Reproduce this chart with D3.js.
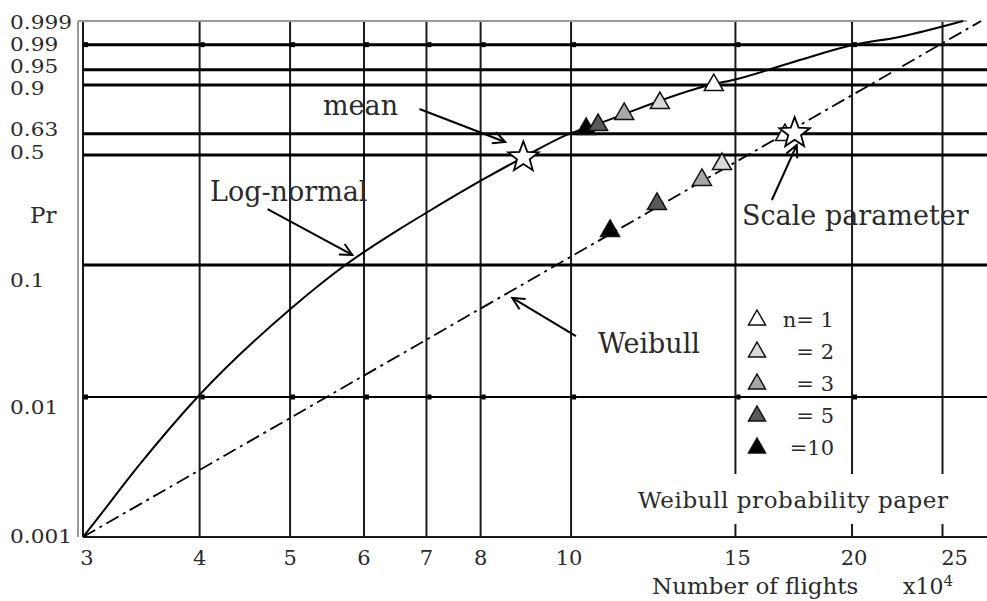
<!DOCTYPE html>
<html>
<head>
<meta charset="utf-8">
<script src="https://cdn.jsdelivr.net/npm/d3@7"></script>
<style>
  body { margin: 0; background: #fff; }
  text { font-family: "DejaVu Serif", serif; fill: #2a2a2a; }
</style>
</head>
<body>
<div class="chart"></div>
<script>
const w = 987;
const h = 601;

// grid of the probability paper
const xTicks = [3, 4, 5, 6, 7, 8, 10, 15, 20, 25];
const pLines = [0.99, 0.95, 0.9, 0.632, 0.5, 0.1, 0.01];
const pTicks = [0.999, 0.99, 0.95, 0.9, 0.632, 0.5, 0.1, 0.01, 0.001];
const pLabels = ["0.999", "0.99", "0.95", "0.9", "0.63", "0.5", "0.1", "0.01", "0.001"];

// log-normal curve
const lnX = [3.0, 3.10, 3.44, 3.98, 4.99, 5.73, 6.53, 7.02, 8.03, 8.89, 10.0, 10.38, 14.22, 14.91, 17.58, 20.03, 22.48, 26.3];
const lnP = [0.001, 0.00132, 0.00322, 0.01, 0.0462, 0.1, 0.175, 0.230, 0.364, 0.487, 0.636, 0.668, 0.904, 0.919, 0.971, 0.9897, 0.9948, 0.999];

// weibull line (straight on this paper)
const wbX = [3.0, 27.5];
const wbP = [0.001, 0.999];

// sample points, n = 1, 2, 3, 5, 10
const nLabels = ["n= 1", "= 2", "= 3", "= 5", "=10"];
const nFill = ["#ffffff", "#d9d9d9", "#a6a6a6", "#595959", "#000000"];
const lnPtX = [14.22, 12.45, 11.40, 10.69, 10.38];
const lnPtP = [0.904, 0.821, 0.760, 0.693, 0.668];
const wbPtX = [16.95, 14.51, 13.81, 12.36, 11.01];
const wbPtP = [0.630, 0.454, 0.369, 0.263, 0.175];

const meanPt = [8.89, 0.487];
const scalePt = [17.36, 0.636];

// annotation arrows [x0, p0, x1, p1]
const arrows = [
    [4.73, 0.2405, 5.83, 0.1176],   // Log-normal
    [6.88, 0.783, 8.50, 0.580],     // mean
    [16.41, 0.2746, 17.45, 0.5615], // Scale parameter
    [10.12, 0.0293, 8.65, 0.0569]   // Weibull
];

const wz = p => Math.log(-Math.log(1 - p));

const x = d3.scaleLog().domain([3, 27.9]).range([83, 987]);
const y = d3.scaleLinear()
    .domain([wz(0.001), wz(0.01), wz(0.1), wz(0.999)])
    .range([537, 397, 265, 21]);
const yp = p => y(wz(p));

const svg = d3.select(".chart")
    .append("svg")
    .attr("width", w)
    .attr("height", h);

svg.append("rect").attr("width", w).attr("height", h).attr("fill", "#fff");

const defs = svg.append("defs");
defs.append("marker")
    .attr("id", "arr")
    .attr("viewBox", "-1 -7 15 14")
    .attr("refX", 12).attr("refY", 0)
    .attr("markerWidth", 15).attr("markerHeight", 14)
    .attr("markerUnits", "userSpaceOnUse")
    .attr("orient", "auto")
    .append("path")
    .attr("d", "M0,-6L12,0L0,6")
    .attr("fill", "none")
    .attr("stroke", "#000")
    .attr("stroke-width", 2);

// vertical grid
svg.selectAll(".vline")
    .data(xTicks)
    .enter()
    .append("line")
    .attr("class", "vline")
    .attr("x1", d => x(d)).attr("x2", d => x(d))
    .attr("y1", yp(0.999)).attr("y2", yp(0.001))
    .attr("stroke", "#1a1a1a")
    .attr("stroke-width", 2);

// horizontal lines
svg.selectAll(".hline")
    .data(pLines)
    .enter()
    .append("line")
    .attr("class", "hline")
    .attr("x1", x(3)).attr("x2", w)
    .attr("y1", d => yp(d)).attr("y2", d => yp(d))
    .attr("stroke", "#000")
    .attr("stroke-width", d => d === 0.01 ? 2 : 3);

// little square markers on two of the lines
[0.99, 0.01].forEach(p => {
    svg.selectAll(null)
        .data(xTicks.slice(0, 9))
        .enter()
        .append("rect")
        .attr("x", d => x(d) + 1)
        .attr("y", yp(p) - 2.5)
        .attr("width", 4)
        .attr("height", 5)
        .attr("fill", "#000");
});

// plot frame
svg.append("line")
    .attr("x1", 78).attr("x2", 78)
    .attr("y1", yp(0.999)).attr("y2", yp(0.001))
    .attr("stroke", "#999").attr("stroke-width", 2);
svg.append("line")
    .attr("x1", 78).attr("x2", 967)
    .attr("y1", yp(0.999)).attr("y2", yp(0.999))
    .attr("stroke", "#999").attr("stroke-width", 2);
svg.append("line")
    .attr("x1", x(3)).attr("x2", w)
    .attr("y1", yp(0.001)).attr("y2", yp(0.001))
    .attr("stroke", "#1a1a1a").attr("stroke-width", 2);

// paper title on a white box
svg.append("rect")
    .attr("x", 628).attr("y", 474)
    .attr("width", w - 628).attr("height", 50)
    .attr("fill", "#fff");
svg.append("text")
    .attr("x", 638).attr("y", 508)
    .attr("textLength", 310)
    .style("font-size", "23px")
    .text("Weibull probability  paper");

// curves
const lnData = lnX.map((d, i) => [d, lnP[i]]);
const wbData = wbX.map((d, i) => [d, wbP[i]]);
const line = d3.line()
    .x(d => x(d[0]))
    .y(d => yp(d[1]));

svg.append("path")
    .datum(wbData)
    .attr("d", line)
    .attr("fill", "none")
    .attr("stroke", "#000")
    .attr("stroke-width", 1.8)
    .attr("stroke-dasharray", "14,5,3,5");

svg.append("path")
    .datum(lnData)
    .attr("d", line.curve(d3.curveMonotoneX))
    .attr("fill", "none")
    .attr("stroke", "#000")
    .attr("stroke-width", 2);

// arrows
svg.selectAll(".arrow")
    .data(arrows)
    .enter()
    .append("line")
    .attr("class", "arrow")
    .attr("x1", d => x(d[0])).attr("y1", d => yp(d[1]))
    .attr("x2", d => x(d[2])).attr("y2", d => yp(d[3]))
    .attr("stroke", "#000")
    .attr("stroke-width", 2)
    .attr("marker-end", "url(#arr)");

// markers
const tri = "M0,-10L9.5,6.5L-9.5,6.5Z";
const triSmall = "M0,-9L8.5,6L-8.5,6Z";

function star(r) {
    const pts = [];
    for (let i = 0; i < 10; i++) {
        const a = -Math.PI / 2 + i * Math.PI / 5;
        const rr = i % 2 === 0 ? r : r * 0.42;
        pts.push([rr * Math.cos(a), rr * Math.sin(a)]);
    }
    return "M" + pts.join("L") + "Z";
}

const order = [4, 3, 2, 1, 0];

svg.selectAll(".ln-pt")
    .data(order)
    .enter()
    .append("path")
    .attr("class", "ln-pt")
    .attr("d", tri)
    .attr("transform", i => `translate(${x(lnPtX[i])},${yp(lnPtP[i])})`)
    .attr("fill", i => nFill[i])
    .attr("stroke", "#111")
    .attr("stroke-width", 1.5);

svg.selectAll(".wb-pt")
    .data(order)
    .enter()
    .append("path")
    .attr("class", "wb-pt")
    .attr("d", tri)
    .attr("transform", i => `translate(${x(wbPtX[i])},${yp(wbPtP[i])})`)
    .attr("fill", i => nFill[i])
    .attr("stroke", "#111")
    .attr("stroke-width", 1.5);

[meanPt, scalePt].forEach(d => {
    svg.append("path")
        .attr("d", star(16))
        .attr("transform", `translate(${x(d[0])},${yp(d[1])})`)
        .attr("fill", "#fff")
        .attr("stroke", "#000")
        .attr("stroke-width", 1.8);
});

// y labels (stacked by hand in the original, so each has its own nudge)
const yLabelDy = [7.5, 6.2, 3.4, 10.3, 2.3, 3.4, 22, 17, 6];
svg.selectAll(".ylab")
    .data(pTicks)
    .enter()
    .append("text")
    .attr("class", "ylab")
    .attr("x", 10)
    .attr("y", (d, i) => yp(d) + yLabelDy[i])
    .style("font-size", "19px")
    .text((d, i) => pLabels[i])
    .each(function () {
        this.setAttribute("textLength", this.getComputedTextLength() * 1.14);
        this.setAttribute("lengthAdjust", "spacingAndGlyphs");
    });

svg.append("text")
    .attr("x", 30).attr("y", 223)
    .style("font-size", "23px")
    .text("Pr");

// x labels
const xLabelDx = [4, 0, 0, 0, 0, 0, -2, 2, 2, 12];
svg.selectAll(".xlab")
    .data(xTicks)
    .enter()
    .append("text")
    .attr("class", "xlab")
    .attr("x", (d, i) => x(d) + xLabelDx[i])
    .attr("y", 565)
    .attr("text-anchor", "middle")
    .style("font-size", "21px")
    .text(d => d);

svg.append("text")
    .attr("x", 652).attr("y", 594)
    .style("font-size", "23px")
    .text("Number of flights");
const unit = svg.append("text")
    .attr("x", 903).attr("y", 594)
    .style("font-size", "22px");
unit.append("tspan").text("x10");
unit.append("tspan").attr("dy", -8).style("font-size", "15px").text("4");

// annotations
const notes = [
    ["mean", 323, 115, "start"],
    ["Log-normal", 210, 201, "start"],
    ["Scale parameter", 742, 225, "start"],
    ["Weibull", 700, 353, "end"]
];
svg.selectAll(".note")
    .data(notes)
    .enter()
    .append("text")
    .attr("class", "note")
    .attr("x", d => d[1])
    .attr("y", d => d[2])
    .attr("text-anchor", d => d[3])
    .style("font-size", "27px")
    .text(d => d[0]);

// legend
const legend = svg.append("g")
    .attr("transform", "translate(757, 319)")
    .selectAll("g")
    .data(nLabels)
    .enter()
    .append("g")
    .attr("transform", (d, i) => `translate(0, ${i * 32})`);

legend.append("path")
    .attr("d", triSmall)
    .attr("fill", (d, i) => nFill[i])
    .attr("stroke", "#111")
    .attr("stroke-width", 1.5);

legend.append("text")
    .attr("x", 77)
    .attr("y", 8)
    .attr("text-anchor", "end")
    .style("font-size", "21px")
    .text(d => d);
</script>
</body>
</html>
